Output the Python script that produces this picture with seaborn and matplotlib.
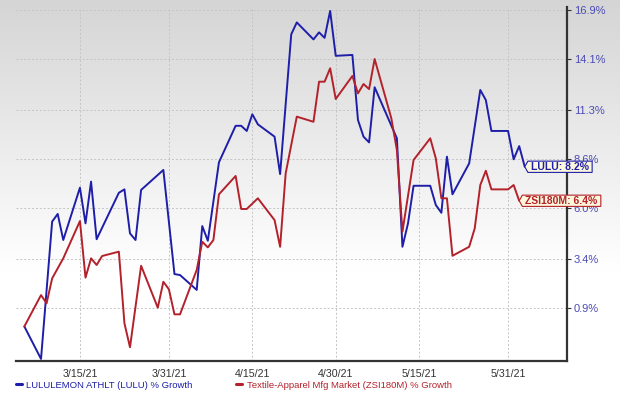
import numpy as np
import pandas as pd
import seaborn as sns
import matplotlib.pyplot as plt
from matplotlib.path import Path

# % growth (vertices of the two lines)
lulu_dates = [
    "2021-03-05", "2021-03-08", "2021-03-10", "2021-03-11", "2021-03-12",
    "2021-03-15", "2021-03-16", "2021-03-17", "2021-03-18", "2021-03-22",
    "2021-03-23", "2021-03-24", "2021-03-25", "2021-03-26", "2021-03-30",
    "2021-04-01", "2021-04-02", "2021-04-05", "2021-04-06", "2021-04-07",
    "2021-04-09", "2021-04-12", "2021-04-13", "2021-04-14", "2021-04-15",
    "2021-04-16", "2021-04-19", "2021-04-20", "2021-04-22", "2021-04-23",
    "2021-04-26", "2021-04-27", "2021-04-28", "2021-04-29", "2021-04-30",
    "2021-05-03", "2021-05-04", "2021-05-05", "2021-05-06", "2021-05-07",
    "2021-05-11", "2021-05-12", "2021-05-13", "2021-05-14", "2021-05-17",
    "2021-05-18", "2021-05-19", "2021-05-20", "2021-05-21", "2021-05-24",
    "2021-05-26", "2021-05-27", "2021-05-28", "2021-05-31", "2021-06-01",
    "2021-06-02", "2021-06-03",
]
lulu_growth = [
    0.0, -1.59, 5.31, 5.71, 4.36,
    7.09, 5.22, 7.41, 4.40, 6.82,
    7.00, 4.70, 4.36, 6.97, 8.03,
    2.62, 2.57, 1.82, 5.08, 4.32,
    8.44, 10.41, 10.41, 10.13, 11.04,
    10.49, 9.82, 7.81, 15.51, 16.19,
    15.22, 15.62, 15.31, 16.85, 14.29,
    14.34, 10.73, 9.82, 9.51, 12.53,
    9.73, 4.01, 5.22, 7.19, 7.19,
    6.18, 5.77, 8.74, 6.74, 8.38,
    12.38, 11.82, 10.13, 10.13, 8.60,
    9.31, 8.20,
]

zsi_dates = [
    "2021-03-05", "2021-03-08", "2021-03-09", "2021-03-10", "2021-03-12",
    "2021-03-15", "2021-03-16", "2021-03-17", "2021-03-18", "2021-03-19",
    "2021-03-22", "2021-03-23", "2021-03-24", "2021-03-26", "2021-03-29",
    "2021-03-30", "2021-03-31", "2021-04-01", "2021-04-02", "2021-04-05",
    "2021-04-06", "2021-04-07", "2021-04-08", "2021-04-09", "2021-04-12",
    "2021-04-13", "2021-04-14", "2021-04-16", "2021-04-19", "2021-04-20",
    "2021-04-21", "2021-04-23", "2021-04-26", "2021-04-27", "2021-04-28",
    "2021-04-29", "2021-04-30", "2021-05-03", "2021-05-04", "2021-05-05",
    "2021-05-06", "2021-05-07", "2021-05-10", "2021-05-11", "2021-05-12",
    "2021-05-14", "2021-05-17", "2021-05-18", "2021-05-19", "2021-05-20",
    "2021-05-21", "2021-05-24", "2021-05-25", "2021-05-26", "2021-05-27",
    "2021-05-28", "2021-05-31", "2021-06-01", "2021-06-02",
]
zsi_growth = [
    0.0, 1.56, 1.15, 2.40, 3.42,
    5.34, 2.44, 3.42, 3.08, 3.54,
    3.76, 0.16, -1.02, 3.04, 0.93,
    2.23, 1.85, 0.60, 0.60, 2.83,
    4.27, 3.98, 4.36, 6.74, 7.71,
    5.97, 5.97, 6.53, 5.39, 4.01,
    7.85, 10.91, 10.63, 12.84, 12.84,
    13.59, 11.88, 13.16, 12.19, 12.71,
    12.43, 14.11, 10.82, 9.10, 4.79,
    8.56, 9.73, 8.65, 6.53, 6.53,
    3.55, 4.01, 4.96, 7.23, 7.99,
    7.00, 7.00, 7.23, 6.40,
]

series_names = ["LULULEMON ATHLT (LULU) % Growth",
                "Textile-Apparel Mfg Market (ZSI180M) % Growth"]
end_tags = ["LULU: 8.2%", "ZSI180M: 6.4%"]
colors = ["#1e1ea8", "#b3212b"]

x_ticks = ["2021-03-15", "2021-03-31", "2021-04-15", "2021-04-30", "2021-05-15", "2021-05-31"]
x_tick_labels = ["3/15/21", "3/31/21", "4/15/21", "4/30/21", "5/15/21", "5/31/21"]
y_ticks = [0.9, 3.4, 6.0, 8.6, 11.3, 14.1, 16.9]
y_tick_labels = ["0.9%", "3.4%", "6.0%", "8.6%", "11.3%", "14.1%", "16.9%"]

lulu = pd.DataFrame({"date": pd.to_datetime(lulu_dates), "growth": lulu_growth})
zsi = pd.DataFrame({"date": pd.to_datetime(zsi_dates), "growth": zsi_growth})

sns.set_style("white")
plt.rcParams["font.family"] = ["Liberation Sans", "DejaVu Sans"]

fig = plt.figure(figsize=(6.2, 3.99), dpi=100)

# grey-to-white background gradient behind everything
bg = fig.add_axes([0, 0, 1, 1], zorder=-10)
g = np.clip(0.835 + 0.165 * np.linspace(0, 1, 300) / 0.68, 0, 1)
bg.imshow(np.repeat(g[:, None, None], 3, axis=2), aspect="auto", extent=[0, 1, 0, 1])
bg.axis("off")

ax = fig.add_axes([16 / 620, 38 / 399, 550.7 / 620, 353.7 / 399])
ax.set_facecolor("none")

sns.lineplot(data=lulu, x="date", y="growth", ax=ax, color=colors[0], lw=1.4,
             label=series_names[0])
sns.lineplot(data=zsi, x="date", y="growth", ax=ax, color=colors[1], lw=1.4,
             label=series_names[1])

# growth axis is spaced on log(1 + r)
ax.set_yscale("function", functions=(lambda v: np.log1p(np.asarray(v) / 100.0),
                                     lambda t: np.expm1(np.asarray(t)) * 100.0))
ax.set_ylim(-1.69, 17.06)
ax.set_xlim(pd.Timestamp("2021-03-03 12:00"), pd.Timestamp("2021-06-10 13:00"))

ax.yaxis.tick_right()
ax.set_yticks(y_ticks)
ax.set_yticklabels(y_tick_labels)
ax.set_xticks(pd.to_datetime(x_ticks))
ax.set_xticklabels(x_tick_labels)
ax.set_xlabel("")
ax.set_ylabel("")
ax.tick_params(axis="y", colors="#333333", labelcolor="#4b4bb5", labelsize=8,
               length=3, width=0.8, pad=2)
ax.tick_params(axis="x", colors="#bbbbbb", labelcolor="#333333", labelsize=7.7,
               length=3, width=0.8, pad=2.5)
ax.minorticks_off()

ax.grid(True, ls=(0, (2, 2)), color="#c4c4c4", lw=0.7)
for side in ["left", "top"]:
    ax.spines[side].set_visible(False)
for side in ["right", "bottom"]:
    ax.spines[side].set_color("#333333")
    ax.spines[side].set_linewidth(1.6)


def tag_box(x0, y0, width, height, mutation_size):
    px, py, tip = 0.3 * mutation_size, 0.06 * mutation_size, 0.3 * mutation_size
    x0, y0 = x0 - px, y0 - py
    x1, y1 = x0 + width + 2 * px, y0 + height + 2 * py
    verts = [(x0, y0), (x1, y0), (x1, y1), (x0, y1), (x0 - tip, (y0 + y1) / 2), (x0, y0)]
    codes = [Path.MOVETO] + [Path.LINETO] * 4 + [Path.CLOSEPOLY]
    return Path(verts, codes)


for df, tag, c in [(lulu, end_tags[0], colors[0]), (zsi, end_tags[1], colors[1])]:
    ax.annotate(tag, xy=(df["date"].iloc[-1], df["growth"].iloc[-1]),
                xytext=(4.5, 0), textcoords="offset points", ha="left", va="center",
                fontsize=7.5, fontweight="bold", color=c, zorder=10,
                annotation_clip=False,
                bbox=dict(boxstyle=tag_box, fc="#fbf8dc", ec=c, lw=0.8))

leg = ax.legend(loc="center left", bbox_to_anchor=(16 / 620, 1 - 385 / 399),
                bbox_transform=fig.transFigure, ncol=2, frameon=False, fontsize=6.8,
                handlelength=0.6, handletextpad=0.5, columnspacing=4.6,
                borderpad=0, borderaxespad=0)
for text, c in zip(leg.get_texts(), colors):
    text.set_color(c)
for h in leg.legend_handles:
    h.set_linewidth(2.2)

fig.savefig("out.png", dpi=100)
